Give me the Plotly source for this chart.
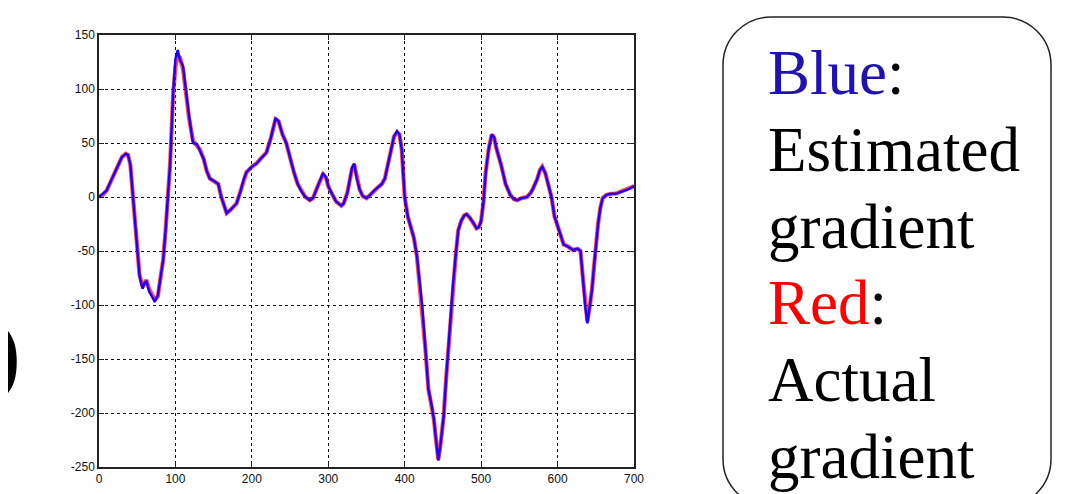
import plotly.graph_objects as go

# ---- data ----
x_vals = [0, 5, 10, 15, 20, 25, 30, 35, 38, 41, 44, 47, 50, 53, 57, 60, 62, 66, 70, 73, 77, 80, 84, 87,
          90, 93, 97, 100, 103, 106, 110, 114, 118, 123, 128, 132, 137, 141, 145, 150, 156, 160, 164,
          167, 172, 176, 180, 185, 190, 193, 200, 206, 212, 219, 225, 231, 235, 240, 245, 250, 255, 260,
          265, 270, 276, 280, 285, 290, 293, 297, 300, 304, 310, 317, 320, 325, 328, 331, 334, 337, 341,
          345, 350, 355, 360, 365, 370, 374, 378, 382, 386, 390, 393, 396, 398, 400, 404, 408, 412, 416,
          420, 423, 427, 431, 435, 438, 441, 444, 447, 451, 454, 457, 460, 463, 467, 470, 474, 478, 481,
          485, 490, 494, 497, 500, 503, 506, 510, 514, 517, 520, 526, 532, 538, 543, 547, 553, 560, 565,
          568, 573, 577, 580, 584, 588, 592, 596, 600, 604, 608, 614, 620, 626, 630, 633, 636, 639, 642,
          645, 648, 650, 653, 656, 659, 664, 670, 676, 680, 686, 692, 697, 700]

actual_gradient = [0, 2, 6, 14, 22, 30, 37, 40, 39, 30, 5, -25, -50, -72, -83, -80, -77, -86, -92, -95, -92,
                   -78, -58, -32, -3, 30, 95, 120, 131, 129, 118, 95, 72, 52, 47, 44, 35, 24, 17, 15, 12, 0,
                   -10, -15, -12, -9, -6, 5, 18, 23, 28, 31, 36, 41, 55, 72, 70, 58, 50, 36, 23, 12, 5, 0,
                   -3, -1, 8, 17, 21, 18, 10, 4, -4, -8, -6, 4, 15, 26, 30, 18, 7, 1, -1, 2, 6, 9, 12, 17,
                   30, 45, 56, 60, 58, 45, 20, 0, -18, -28, -38, -55, -85, -102, -140, -178, -192, -205,
                   -225, -243, -228, -203, -170, -141, -110, -83, -52, -31, -22, -17, -16, -19, -24, -29,
                   -28, -22, -5, 23, 45, 58, 55, 45, 30, 12, 2, -2, -3, -1, 0, 4, 8, 16, 25, 28, 22, 11, 0,
                   -18, -27, -37, -44, -46, -49, -48, -50, -74, -100, -115, -102, -86, -62, -45, -25, -10,
                   -1, 2, 3, 3, 4, 6, 7, 9, 10]

estimated_gradient = [0, 3, 6, 14, 22, 30, 37, 40, 39, 30, 5, -25, -50, -73, -85, -79, -78, -88, -93, -97, -91,
                      -78, -58, -32, -3, 30, 96, 128, 136, 127, 121, 95, 74, 50, 49, 43, 35, 24, 17, 15, 12, 0,
                      -10, -15, -12, -9, -6, 5, 18, 23, 28, 31, 36, 41, 55, 73, 70, 58, 50, 36, 23, 12, 5, 0,
                      -3, -1, 8, 17, 22, 18, 10, 4, -4, -8, -6, 4, 15, 27, 31, 18, 7, 1, -1, 2, 6, 9, 12, 17,
                      30, 45, 56, 61, 58, 45, 20, 0, -18, -28, -38, -55, -85, -102, -140, -178, -192, -205,
                      -225, -244, -228, -203, -170, -141, -110, -83, -52, -31, -22, -17, -16, -19, -24, -29,
                      -28, -22, -5, 23, 45, 58, 55, 45, 30, 12, 2, -2, -3, -1, 0, 4, 8, 16, 25, 28, 22, 11, 0,
                      -18, -27, -37, -44, -46, -49, -48, -50, -74, -100, -117, -102, -86, -62, -45, -25, -10,
                      -1, 2, 3, 3, 4, 6, 7, 9, 10]

x_ticks = [0, 100, 200, 300, 400, 500, 600, 700]
y_ticks = [-250, -200, -150, -100, -50, 0, 50, 100, 150]

legend_lines = ["<span style='color:#1f12b4'>Blue</span>:", "Estimated", "gradient",
                "<span style='color:#ff0000'>Red</span>:", "Actual", "gradient"]

# ---- layout geometry (pixels, in the photographed window; page body adds an 8px offset) ----
W, H = 1088, 494
OFF = 8
L, R, T, B = 99 - OFF, 634 - OFF, 35 - OFF, 467 - OFF


def px_x(p):
    return (p - OFF - L) / (R - L)


def px_y(p):
    return (B - (p - OFF)) / (B - T)


fig = go.Figure()
fig.add_trace(go.Scatter(x=x_vals, y=actual_gradient, mode="lines",
                         line=dict(color="#ff0000", width=4.2), opacity=0.7,
                         name="Actual gradient"))
fig.add_trace(go.Scatter(x=x_vals, y=estimated_gradient, mode="lines",
                         line=dict(color="#1a00ff", width=2.4),
                         name="Estimated gradient"))

axis_common = dict(showline=True, linecolor="#222", linewidth=1.5, mirror="ticks",
                   ticks="inside", ticklen=5, tickcolor="#222", tickwidth=1.3,
                   showgrid=True, gridcolor="#111", gridwidth=1, griddash="dot",
                   zeroline=False, tickfont=dict(family="Liberation Sans, Arial", size=12, color="#111"))

fig.update_xaxes(range=[0, 700], tickvals=x_ticks, ticktext=[str(v) for v in x_ticks], **axis_common)
fig.update_yaxes(range=[-250, 150], tickvals=y_ticks, ticktext=[str(v) for v in y_ticks], **axis_common)

annotations = []
baselines = [93, 170, 247, 323, 400, 477]
fs = 63
for txt, bl in zip(legend_lines, baselines):
    annotations.append(dict(xref="paper", yref="paper", x=px_x(766), y=px_y(bl - 57),
                            xanchor="left", yanchor="top", showarrow=False, text=txt,
                            font=dict(family="Liberation Serif, Times New Roman", size=fs, color="#000")))

annotations.append(dict(xref="paper", yref="paper", x=px_x(23), y=px_y(352),
                        xanchor="right", yanchor="middle", showarrow=False, text=")",
                        font=dict(family="Liberation Serif, Times New Roman", size=96, color="#000")))

# rounded legend box
x0, x1, y0, y1, r = 723, 1051, 17, 507, 48
k = 0.5523 * r
path = (f"M {px_x(x0 + r)},{px_y(y0)} L {px_x(x1 - r)},{px_y(y0)} "
        f"C {px_x(x1 - r + k)},{px_y(y0)} {px_x(x1)},{px_y(y0 + r - k)} {px_x(x1)},{px_y(y0 + r)} "
        f"L {px_x(x1)},{px_y(y1 - r)} "
        f"C {px_x(x1)},{px_y(y1 - r + k)} {px_x(x1 - r + k)},{px_y(y1)} {px_x(x1 - r)},{px_y(y1)} "
        f"L {px_x(x0 + r)},{px_y(y1)} "
        f"C {px_x(x0 + r - k)},{px_y(y1)} {px_x(x0)},{px_y(y1 - r + k)} {px_x(x0)},{px_y(y1 - r)} "
        f"L {px_x(x0)},{px_y(y0 + r)} "
        f"C {px_x(x0)},{px_y(y0 + r - k)} {px_x(x0 + r - k)},{px_y(y0)} {px_x(x0 + r)},{px_y(y0)} Z")

fig.update_layout(
    width=W, height=H,
    margin=dict(l=L, r=W - R, t=T, b=H - B),
    paper_bgcolor="white", plot_bgcolor="white",
    showlegend=False,
    annotations=annotations,
    shapes=[dict(type="path", xref="paper", yref="paper", path=path,
                 line=dict(color="#222", width=1.5), fillcolor="rgba(0,0,0,0)")],
)

fig.write_html("out.html")
